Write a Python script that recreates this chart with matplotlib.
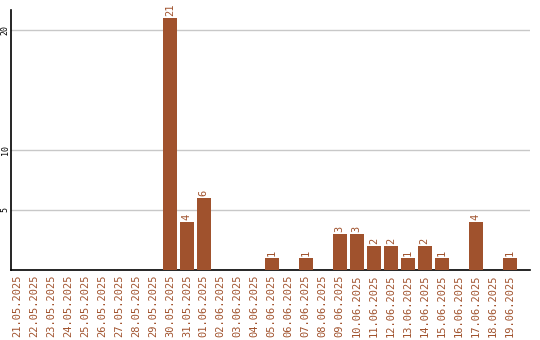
import matplotlib
matplotlib.use("Agg")
import matplotlib.pyplot as plt

dates = ["21.05.2025", "22.05.2025", "23.05.2025", "24.05.2025", "25.05.2025",
         "26.05.2025", "27.05.2025", "28.05.2025", "29.05.2025", "30.05.2025",
         "31.05.2025", "01.06.2025", "02.06.2025", "03.06.2025", "04.06.2025",
         "05.06.2025", "06.06.2025", "07.06.2025", "08.06.2025", "09.06.2025",
         "10.06.2025", "11.06.2025", "12.06.2025", "13.06.2025", "14.06.2025",
         "15.06.2025", "16.06.2025", "17.06.2025", "18.06.2025", "19.06.2025"]
counts = [0, 0, 0, 0, 0, 0, 0, 0, 0, 21,
          4, 6, 0, 0, 0, 1, 0, 1, 0, 3,
          3, 2, 2, 1, 2, 1, 0, 4, 0, 1]
yticks = [5, 10, 20]

brown = "#a0522d"

fig = plt.figure(figsize=(5.4, 3.4), dpi=100)
ax = fig.add_axes([0.0204, 0.206, 0.9606, 0.7646])

x = list(range(len(dates)))
ax.bar(x, counts, width=0.82, color=brown, zorder=3)

for i, v in zip(x, counts):
    if v > 0:
        ax.text(i, v + 0.15, str(v), rotation=90, ha="center", va="bottom",
                color=brown, fontsize=7.5, family="DejaVu Sans Mono")

ax.set_xlim(-0.35, 30.18)
ax.set_ylim(0, 21.67)
ax.set_xticks(x)
ax.set_xticklabels(dates, rotation=90, color=brown, fontsize=7.5,
                   family="DejaVu Sans Mono")
ax.set_yticks(yticks)
ax.set_yticklabels([str(t) for t in yticks], rotation=90, fontsize=6,
                   family="DejaVu Sans Mono", va="center")
ax.tick_params(axis="x", length=0, pad=3)
ax.tick_params(axis="y", length=0, pad=1)
ax.grid(axis="y", color="#c8c8c8", linewidth=1, zorder=0)

for s in ["top", "right"]:
    ax.spines[s].set_visible(False)
ax.spines["left"].set_linewidth(1.2)
ax.spines["bottom"].set_linewidth(1.2)

fig.savefig("out.png", dpi=100)
